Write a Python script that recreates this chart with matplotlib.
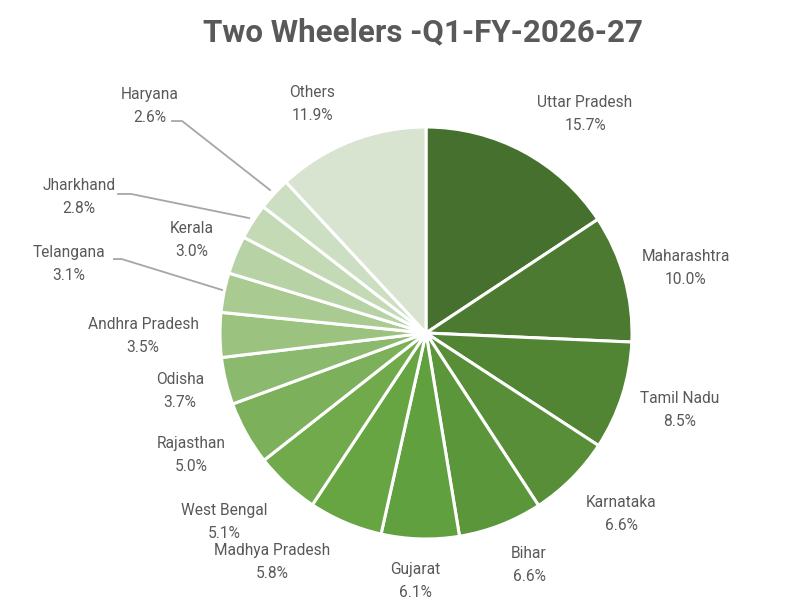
import matplotlib
matplotlib.use("Agg")
import matplotlib.pyplot as plt

states = ["Uttar Pradesh", "Maharashtra", "Tamil Nadu", "Karnataka", "Bihar",
          "Gujarat", "Madhya Pradesh", "West Bengal", "Rajasthan", "Odisha",
          "Andhra Pradesh", "Telangana", "Kerala", "Jharkhand", "Haryana", "Others"]
shares = [15.7, 10.0, 8.5, 6.6, 6.6, 6.1, 5.8, 5.1, 5.0, 3.7, 3.5, 3.1, 3.0, 2.8, 2.6, 11.9]
title = "Two Wheelers -Q1-FY-2026-27"

colors = ["#45702d", "#4b7a30", "#518433", "#578e37", "#5b963b", "#61a03f",
          "#67a542", "#70aa4b", "#7db05b", "#8bb96d", "#9bc37f", "#a9cb92",
          "#b7d3a5", "#c3dab5", "#cddfc3", "#d8e3d0"]

# label positions, in units of pie radius relative to the centre (layout only)
label_xy = [(0.772, 1.063), (1.262, 0.316), (1.233, -0.374), (0.947, -0.879),
            (0.50, -1.126), (-0.053, -1.204), (-0.748, -1.112), (-0.981, -0.917),
            (-1.141, -0.592), (-1.194, -0.282), (-1.374, -0.015), (-1.733, 0.335),
            (-1.136, 0.451), (-1.684, 0.660), (-1.340, 1.102), (-0.553, 1.112)]
leader = {11: ((-1.515, 0.359), (-1.477, 0.359), (-0.990, 0.209)),
          13: ((-1.495, 0.675), (-1.432, 0.675), (-0.859, 0.558)),
          14: ((-1.233, 1.029), (-1.184, 1.029), (-0.757, 0.694))}

plt.rcParams['font.family'] = ['Roboto', 'DejaVu Sans']
fig = plt.figure(figsize=(7.97, 6.03), dpi=100)
W, H = 797, 603
cx, cy, R = 426, 333, 206
ax = fig.add_axes([(cx - R) / W, (H - cy - R) / H, 2 * R / W, 2 * R / H])
ax.pie(shares, colors=colors, startangle=90, counterclock=False,
       wedgeprops=dict(edgecolor="white", linewidth=2.2), radius=1)
ax.set_xlim(-1, 1)
ax.set_ylim(-1, 1)
ax.set_aspect("equal")
ax.axis("off")

for i, (name, v) in enumerate(zip(states, shares)):
    x, y = label_xy[i]
    ax.text(x, y, f"{name}\n{v:.1f}%", ha="center", va="center", fontsize=11.2,
            color="#595959", linespacing=1.7, clip_on=False)
for i, pts in leader.items():
    xs = [p[0] for p in pts]
    ys = [p[1] for p in pts]
    ax.plot(xs, ys, color="#a6a6a6", lw=1.3, clip_on=False)

fig.text(423 / W, 1 - 32 / H, title, ha="center", va="center", fontsize=22.5,
         fontweight="bold", color="#595959")
fig.savefig("out.png", dpi=100, facecolor="white")
